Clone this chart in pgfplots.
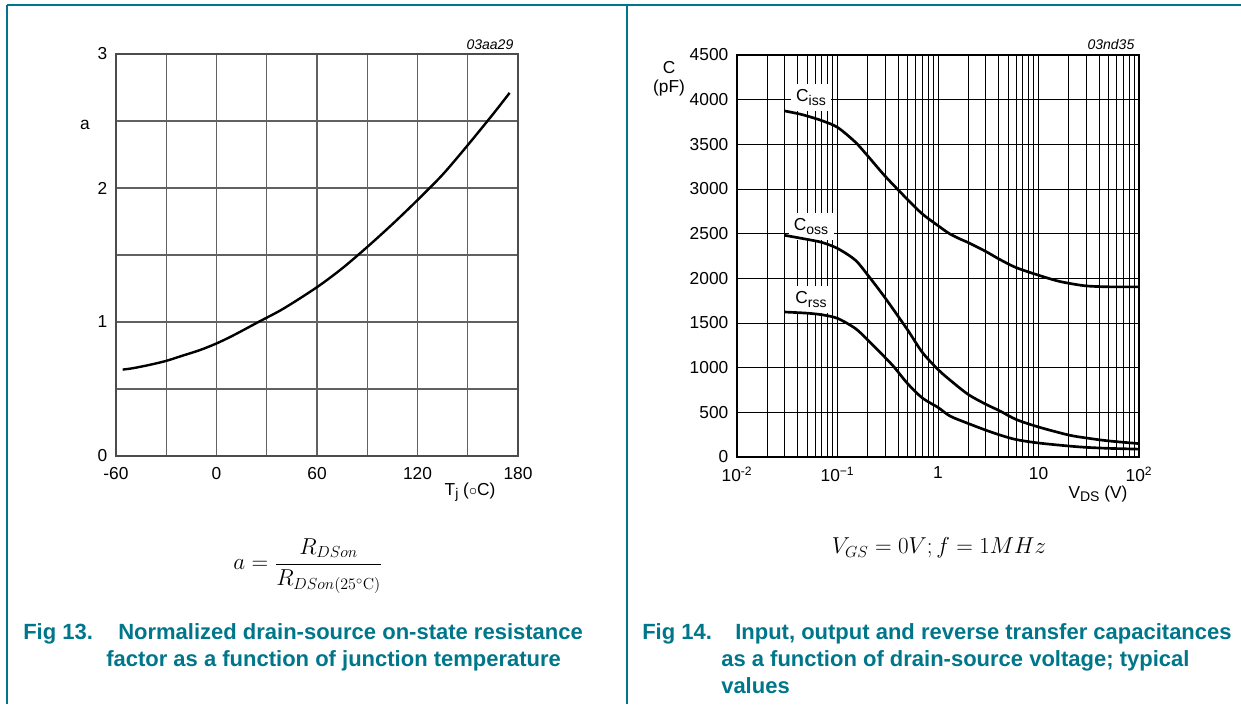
\documentclass[border=0pt]{standalone}
\usepackage[no-math]{fontspec}
\setmainfont{Liberation Sans}
\usepackage{pgfplots}
\pgfplotsset{compat=1.18}
\definecolor{nxpteal}{RGB}{0,118,138}
\newcommand\sub[1]{\raisebox{-0.38ex}{\fontsize{10.5}{12}\selectfont #1}}
\begin{document}
\begin{tikzpicture}[x=0.75pt,y=-0.75pt]
\path[use as bounding box] (0,0) rectangle (1241,704);
\draw[nxpteal,line width=1.1pt] (7,5) -- (1241,5);
\draw[nxpteal,line width=1.1pt] (7,5) -- (7,704);
\draw[nxpteal,line width=1.1pt] (627,5) -- (627,704);

\begin{axis}[
  at={(87pt,-342pt)}, anchor=south west, scale only axis,
  width=301.5pt, height=301.5pt,
  xmin=-60, xmax=180, ymin=0, ymax=3,
  xtick={-60,0,60,120,180}, minor xtick={-30,30,90,150},
  ytick={0,1,2,3}, minor ytick={0.5,1.5,2.5},
  grid=both,
  major grid style={black!62,line width=0.8pt},
  minor grid style={black!62,line width=0.8pt},
  axis line style={black!70,line width=0.9pt},
  major tick length=0pt, minor tick length=0pt,
  tick label style={font=\fontsize{13}{15}\selectfont},
  xticklabel style={yshift=-5pt},
  yticklabel style={xshift=-3pt},
  /pgf/number format/assume math mode=true,
]
\addplot[black,line width=1.8pt,smooth] coordinates {
(-56,0.645) (-50,0.655) (-40,0.68) (-30,0.71) (-20,0.75) (-10,0.79)
(0,0.84) (10,0.90) (25,1.00) (40,1.10) (60,1.26) (75,1.40) (90,1.56)
(105,1.73) (120,1.91) (135,2.10) (150,2.32) (165,2.55) (175,2.71)};
\end{axis}

\begin{axis}[
  at={(552.75pt,-342.75pt)}, anchor=south west, scale only axis,
  width=301.5pt, height=301.5pt,
  xmode=log, xmin=0.01, xmax=100, ymin=0, ymax=4500,
  xtick={0.01,0.1,1,10,100},
  xticklabels={10\textsuperscript{-2},10\textsuperscript{−1},1,10,10\textsuperscript{2}},
  minor xtick={0.02,0.03,0.04,0.05,0.06,0.07,0.08,0.09,0.2,0.3,0.4,0.5,0.6,0.7,0.8,0.9,2,3,4,5,6,7,8,9,20,30,40,50,60,70,80,90},
  ytick={0,500,...,4500},
  scaled y ticks=false,
  yticklabel style={/pgf/number format/1000 sep={},xshift=-3pt},
  xticklabel style={yshift=-4pt},
  grid=both,
  major grid style={black,line width=0.75pt},
  minor grid style={black,line width=0.75pt},
  axis line style={black,line width=1pt},
  major tick length=0pt, minor tick length=0pt,
  tick label style={font=\fontsize{13}{15}\selectfont},
  /pgf/number format/assume math mode=true,
]
\node[fill=white,inner sep=4pt,font=\fontsize{13}{15}\selectfont] at (axis cs:0.0545,4025) {C\sub{iss}};
\node[fill=white,inner sep=4pt,font=\fontsize{13}{15}\selectfont] at (axis cs:0.0545,2580) {C\sub{oss}};
\node[fill=white,inner sep=4pt,font=\fontsize{13}{15}\selectfont] at (axis cs:0.0545,1762) {C\sub{rss}};
\addplot[black,line width=2pt,smooth] coordinates {
(0.03,3873) (0.04,3845) (0.05,3817) (0.07,3765) (0.1,3690) (0.15,3526)
(0.2,3370) (0.3,3140) (0.5,2880) (0.7,2720) (1,2590) (1.3,2500) (1.66,2440)
(2,2400) (3,2300) (4.14,2210) (6,2120) (10,2035) (15,1975) (20,1945)
(30,1915) (50,1905) (100,1905)};
\addplot[black,line width=2pt,smooth] coordinates {
(0.03,2481) (0.05,2436) (0.07,2402) (0.1,2335) (0.15,2205) (0.2,2037)
(0.3,1776) (0.5,1420) (0.7,1170) (1,980) (1.315,862) (2,700) (3,590)
(4.14,515) (6,420) (10,336) (20,246) (30,213) (50,180) (100,150)};
\addplot[black,line width=2pt,smooth] coordinates {
(0.03,1623) (0.05,1610) (0.07,1592) (0.1,1552) (0.15,1440) (0.2,1310)
(0.3,1110) (0.37,1000) (0.5,820) (0.7,660) (1,555) (1.315,459) (2,375)
(3,300) (4.14,246) (6,195) (10,157) (20,123) (30,108) (50,97) (100,88)};
\end{axis}

% axis texts
\node[font=\fontsize{13}{15}\selectfont] at (85,125) {a};
\node[anchor=base east,font=\itshape\fontsize{10.5}{12}\selectfont] at (518,49) {03aa29};
\node[font=\fontsize{13}{15}\selectfont] at (470,492) {T\sub{j} ($\circ$C)};
\node[font=\fontsize{13}{15}\selectfont] at (669,68) {C};
\node[font=\fontsize{13}{15}\selectfont] at (669,88) {(pF)};
\node[anchor=base east,font=\itshape\fontsize{10.5}{12}\selectfont] at (1139,49) {03nd35};
\node[font=\fontsize{13}{15}\selectfont] at (1098,494) {V\sub{DS} (V)};

% formulas
\node[font=\fontsize{18}{21}\selectfont] at (308,566) {$\displaystyle a=\frac{R_{DSon}}{R_{DSon\mathrm{(25^\circ C)}}}$};
\node[font=\fontsize{17}{20}\selectfont] at (939,548) {$V_{GS}=0V;f=1MHz$};

% captions
\begin{scope}[every node/.style={anchor=base west,text=nxpteal,font=\bfseries\fontsize{16.5}{19}\selectfont,inner sep=0pt}]
\node at (23,639) {Fig 13.};
\node at (118,639) {Normalized drain-source on-state resistance};
\node at (106,666) {factor as a function of junction temperature};
\node at (642,639) {Fig 14.};
\node at (735,639) {Input, output and reverse transfer capacitances};
\node at (721,666) {as a function of drain-source voltage; typical};
\node at (721,693) {values};
\end{scope}
\end{tikzpicture}
\end{document}
